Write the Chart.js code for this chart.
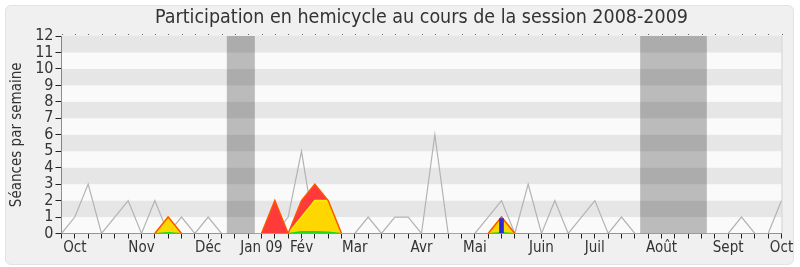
<!DOCTYPE html>
<html><head><meta charset="utf-8">
<script src="https://cdn.jsdelivr.net/npm/chart.js@4.4.0/dist/chart.umd.min.js"></script>
<style>
html,body{margin:0;padding:0;background:#fff;width:800px;height:267px;overflow:hidden;}
#panel{position:absolute;left:5px;top:5px;width:787px;height:258px;background:#f0f0f0;border:1px solid #e2e2e2;border-radius:6px;}
#c{position:absolute;left:0;top:0;}
</style></head><body>
<div id="panel"></div>
<canvas id="c" width="800" height="267"></canvas>
<script>
// 55 weeks, session 2008-2009
const weekLabels = ['', 'Oct', '', '', '', '', 'Nov', '', '', '', '', 'Déc', '', '', '', 'Jan 09', '', '', 'Fév', '', '', '', 'Mar', '', '', '', '', 'Avr', '', '', '', 'Mai', '', '', '', '', 'Juin', '', '', '', 'Juil', '', '', '', '', 'Août', '', '', '', '', 'Sept', '', '', '', 'Oct'];
const totalSeances = [0,1,3,0,1,2,0,2,0,1, 0,1,0,0,0,0,0,1,5,0, 1,0,0,1,0,1,1,0,6,0, 0,0,1,2,0,3,0,2,0,1, 2,0,1,0,0,0,0,0,0,0, 0,1,0,0,2];
const presenceRouge = [0,0,0,0,0,0,0,0,1,0, 0,0,0,0,0,0,2,0,2,3, 2,0,0,0,0,0,0,0,0,0, 0,0,0,1,0,0,0,0,0,0, 0,0,0,0,0,0,0,0,0,0, 0,0,0,0,0];
const presenceJaune = [0,0,0,0,0,0,0,0,1,0, 0,0,0,0,0,0,0,0,1,2, 2,0,0,0,0,0,0,0,0,0, 0,0,0,1,0,0,0,0,0,0, 0,0,0,0,0,0,0,0,0,0, 0,0,0,0,0];
const presenceVerte = [0,0,0,0,0,0,0,0,0.05,0, 0,0,0,0,0,0,0,0,0.12,0.12, 0.08,0,0,0,0,0,0,0,0,0, 0,0,0,0.05,0,0,0,0,0,0, 0,0,0,0,0,0,0,0,0,0, 0,0,0,0,0];
const interventions = [null,null,null,null,null,null,null,null,null,null, null,null,null,null,null,null,null,null,null,null, null,null,null,null,null,null,null,null,null,null, null,null,null,0.9,null,null,null,null,null,null, null,null,null,null,null,null,null,null,null,null, null,null,null,null,null];
const vacances = [[12.4, 14.5], [43.4, 48.4]];
const yMax = 12;

const FONT = '"DejaVu Sans Condensed", "DejaVu Sans", sans-serif';
const zeroSeg = col => ctx => (ctx.p0.parsed.y === 0 && ctx.p1.parsed.y === 0) ? 'rgba(0,0,0,0)' : col;

const backgroundPlugin = {
  id: 'bg',
  beforeDatasetsDraw(chart) {
    const {ctx, chartArea: a, scales: {x, y}} = chart;
    ctx.save();
    for (let v = 0; v < yMax; v++) {
      ctx.fillStyle = (v % 2 === 1) ? '#e6e6e6' : '#fafafa';
      const t = y.getPixelForValue(v + 1), b = y.getPixelForValue(v);
      ctx.fillRect(a.left, t, a.right - a.left, b - t);
    }
    ctx.fillStyle = 'rgba(0,0,0,0.25)';
    vacances.forEach(([s, e]) => {
      const l = x.getPixelForValue(s), r = x.getPixelForValue(e);
      ctx.fillRect(l, a.top, r - l, a.bottom - a.top);
    });
    ctx.restore();
  },
  afterDraw(chart) {
    const {ctx, chartArea: a, scales: {x}} = chart;
    ctx.save();
    ctx.fillStyle = '#666';
    for (let i = 0; i < weekLabels.length; i++) {
      const px = Math.round(x.getPixelForValue(i));
      ctx.fillRect(px, a.top - 2, 1, 1);
    }
    ctx.strokeStyle = '#d4d4d4';
    ctx.lineWidth = 1;
    ctx.beginPath();
    ctx.moveTo(a.right + 0.5, a.top);
    ctx.lineTo(a.right + 0.5, a.bottom);
    ctx.stroke();
    ctx.restore();
  }
};

new Chart(document.getElementById('c'), {
  data: {
    labels: weekLabels,
    datasets: [
      {type: 'line', data: totalSeances, borderColor: '#b3b3b3', borderWidth: 1.2, pointRadius: 0, fill: false, tension: 0, order: 6},
      {type: 'line', data: presenceRouge, borderWidth: 0, backgroundColor: '#ff3a3a', pointRadius: 0, fill: 'origin', tension: 0, order: 5},
      {type: 'line', data: presenceJaune, borderWidth: 1.5, borderColor: '#ffee00', backgroundColor: '#ffd700', pointRadius: 0, fill: 'origin', tension: 0, order: 4, segment: {borderColor: zeroSeg('#ffee00')}},
      {type: 'line', data: presenceRouge, borderWidth: 1.5, borderColor: '#ff5500', pointRadius: 0, fill: false, tension: 0, order: 3, segment: {borderColor: zeroSeg('#ff5500')}},
      {type: 'line', data: presenceVerte, borderWidth: 1.2, borderColor: '#11dd11', backgroundColor: '#22dd22', pointRadius: 0, fill: 'origin', tension: 0, order: 2, segment: {borderColor: zeroSeg('#11dd11')}},
      {type: 'bar', data: interventions, backgroundColor: '#2a2ad8', barThickness: 4, order: 1}
    ]
  },
  options: {
    responsive: false,
    animation: false,
    devicePixelRatio: 1,
    layout: {padding: {left: 0, right: 18.5, top: 0, bottom: 0}},
    plugins: {
      legend: {display: false},
      tooltip: {enabled: false},
      title: {
        display: true, fullSize: false,
        text: 'Participation en hemicycle au cours de la session 2008-2009',
        color: '#333', font: {family: FONT, size: 19.5, weight: 'normal', lineHeight: 1.2},
        padding: {top: 6.6, bottom: 6}
      }
    },
    scales: {
      x: {
        type: 'category', offset: false,
        grid: {display: true, drawOnChartArea: false, drawTicks: true, tickLength: 5, color: '#222', offset: false},
        border: {display: true, color: '#4a2222', width: 1},
        ticks: {autoSkip: false, maxRotation: 0, minRotation: 0, padding: 1, color: '#333', font: {family: FONT, size: 15}},
        afterFit(s) { s.height = 33.5; }
      },
      y: {
        min: 0, max: yMax,
        grid: {display: true, drawOnChartArea: false, drawTicks: true, tickLength: 6, color: '#222'},
        border: {display: true, color: '#222', width: 1},
        ticks: {stepSize: 1, autoSkip: false, padding: 2, color: '#333', font: {family: FONT, size: 16}},
        title: {display: true, text: 'Séances par semaine', color: '#333', font: {family: FONT, size: 15}, padding: {top: 8, bottom: 0}},
        afterFit(s) { s.width = 61.5; }
      }
    }
  },
  plugins: [backgroundPlugin]
});
</script>
</body></html>
